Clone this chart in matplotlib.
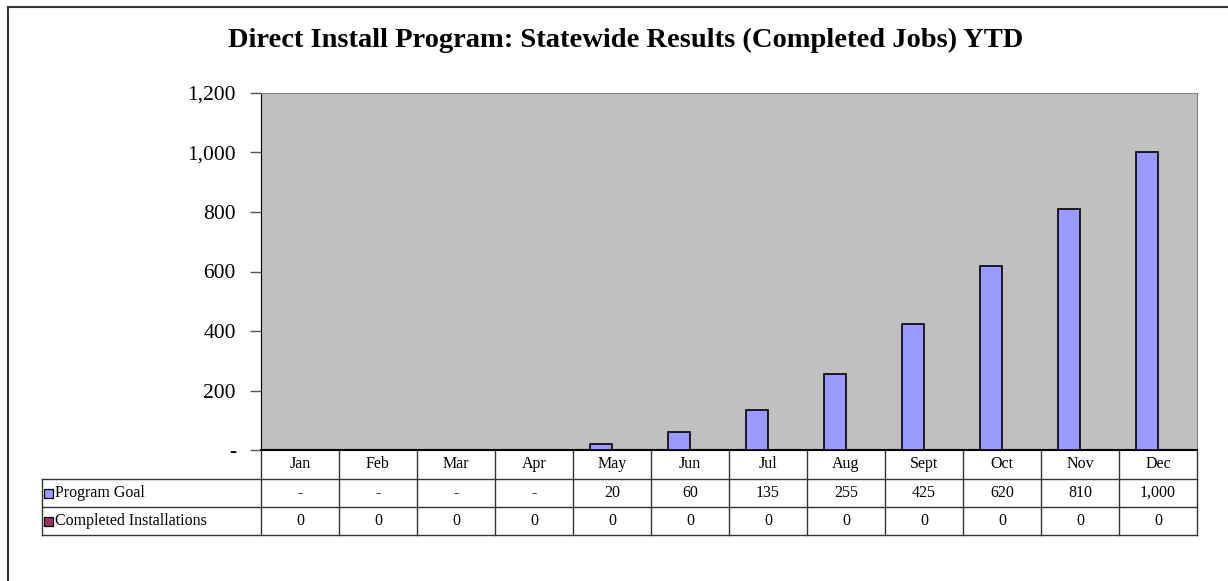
import matplotlib.pyplot as plt
from matplotlib.transforms import blended_transform_factory
from matplotlib.patches import Rectangle
from matplotlib.lines import Line2D

months = ["Jan", "Feb", "Mar", "Apr", "May", "Jun", "Jul", "Aug", "Sept", "Oct", "Nov", "Dec"]
program_goal = [0, 0, 0, 0, 20, 60, 135, 255, 425, 620, 810, 1000]
completed = [0, 0, 0, 0, 0, 0, 0, 0, 0, 0, 0, 0]
series_names = ["Program Goal", "Completed Installations"]
series_colors = ["#9999FF", "#993366"]
yticks = [0, 200, 400, 600, 800, 1000, 1200]

plt.rcParams['font.family'] = ['Liberation Serif', 'DejaVu Serif']

W, H = 1228, 581
fig = plt.figure(figsize=(W / 100, H / 100), dpi=100)

# plot area in pixels
L, R, T, B = 261, 1197, 93, 450
ax = fig.add_axes([L / W, (H - B) / H, (R - L) / W, (B - T) / H])
ax.set_facecolor("#C0C0C0")

x = list(range(len(months)))
bw = 0.28
ax.bar([i - bw / 2 for i in x], program_goal, width=bw, color=series_colors[0],
       edgecolor="black", linewidth=1.2, zorder=3)
ax.bar([i + bw / 2 for i in x], completed, width=bw, color=series_colors[1],
       edgecolor="black", linewidth=1.2, zorder=3)

ax.set_xlim(-0.5, len(months) - 0.5)
ax.set_ylim(0, 1200)
ax.set_yticks(yticks)
ax.set_yticklabels(["-" if v == 0 else f"{v:,}" for v in yticks], fontsize=15.5)
ax.tick_params(axis="y", direction="out", length=8, width=1, color="#555555", pad=10)
ax.set_xticks([])
for s in ["top", "right"]:
    ax.spines[s].set_color("#808080")
ax.spines["left"].set_color("black")
ax.spines["bottom"].set_color("black")
ax.spines["bottom"].set_linewidth(1.5)

# data table below the axis
colw = (R - L) / len(months)
tr = blended_transform_factory(ax.transData, ax.transAxes)


def ya(ypix):
    return (B - ypix) / (B - T)


def xd(xpix):
    return -0.5 + (xpix - L) / colw


rows = [450, 479, 507, 535]
legend_left = 42
lk = dict(color="#333333", linewidth=1, transform=tr, clip_on=False)
for yy in rows[1:]:
    ax.add_line(Line2D([xd(legend_left), xd(R)], [ya(yy), ya(yy)], **lk))
ax.add_line(Line2D([xd(legend_left), xd(legend_left)], [ya(rows[1]), ya(rows[3])], **lk))
for i in range(len(months) + 1):
    ax.add_line(Line2D([i - 0.5, i - 0.5], [ya(rows[0]), ya(rows[3])], **lk))

fs = 11.5
for i, m in enumerate(months):
    ax.text(i, ya((rows[0] + rows[1]) / 2), m, ha="center", va="center",
            fontsize=fs, transform=tr)
    ax.text(i, ya((rows[1] + rows[2]) / 2), "-" if program_goal[i] == 0 else f"{program_goal[i]:,}",
            ha="center", va="center", fontsize=fs, transform=tr)
    ax.text(i, ya((rows[2] + rows[3]) / 2), f"{completed[i]}",
            ha="center", va="center", fontsize=fs, transform=tr)

for k, (name, col) in enumerate(zip(series_names, series_colors)):
    yc = (rows[k + 1] + rows[k + 2]) / 2
    fig.patches.append(Rectangle((44 / W, (H - yc - 4.5) / H), 9 / W, 9 / H,
                                 facecolor=col, edgecolor="black", linewidth=0.9,
                                 transform=fig.transFigure))
    fig.text(55 / W, (H - yc) / H, name, ha="left", va="center", fontsize=fs)

# outer chart frame (left and top only visible)
fig.add_artist(Line2D([8 / W, 8 / W], [0, (H - 7) / H], color="#333333", linewidth=1.5,
                      transform=fig.transFigure))
fig.add_artist(Line2D([8 / W, 1], [(H - 7) / H, (H - 7) / H], color="#333333", linewidth=1.5,
                      transform=fig.transFigure))

fig.text(626 / W, (H - 40) / H, "Direct Install Program: Statewide Results (Completed Jobs) YTD",
         ha="center", va="center", fontsize=20.5, fontweight="bold")

fig.savefig("out.png", dpi=100)
